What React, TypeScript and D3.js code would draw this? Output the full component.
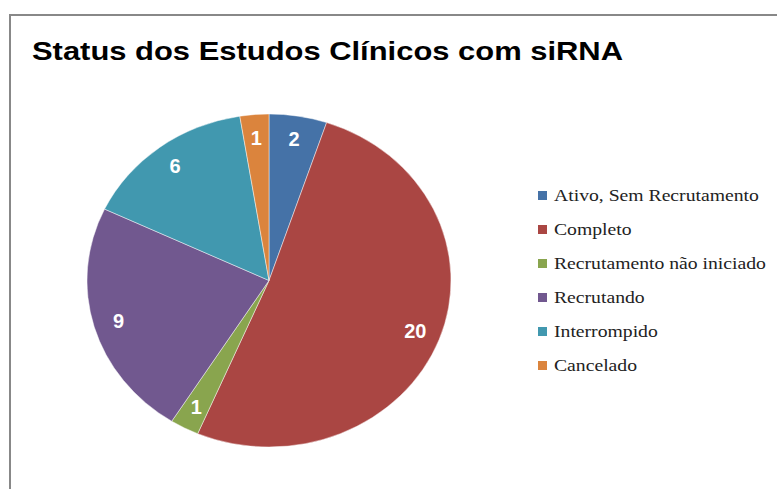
import React from "react";
import * as d3 from "d3";

const categories = [
  "Ativo, Sem Recrutamento",
  "Completo",
  "Recrutamento não iniciado",
  "Recrutando",
  "Interrompido",
  "Cancelado",
];
const values = [2, 20, 1, 9, 6, 1];
const colors = ["#4572A7", "#AA4643", "#89A54E", "#71588F", "#4198AF", "#DB843D"];
const title = "Status dos Estudos Clínicos com siRNA";

export default function App() {
  const W = 777;
  const H = 489;
  const cx = 269;
  const cy = 280.5;
  const rx = 182;
  const ry = 166.5;
  const sy = ry / rx;

  const pie = d3.pie<number>().sort(null).value((d) => d)(values);
  const arc = d3.arc<d3.PieArcDatum<number>>().innerRadius(0).outerRadius(rx);
  const labelArc = d3
    .arc<d3.PieArcDatum<number>>()
    .innerRadius(rx * 0.86)
    .outerRadius(rx * 0.86);

  const legendY = d3.scalePoint<number>().domain(d3.range(categories.length)).range([195, 365]);

  return (
    <svg
      width={W}
      height={H}
      style={{ position: "absolute", left: 0, top: 0, display: "block" }}
    >
      <rect x={0} y={0} width={W} height={H} fill="#fff" />
      <path d={`M10,${H + 5} L10,15 L${W + 5},15`} fill="none" stroke="#888" strokeWidth={2} />
      <text
        x={32}
        y={60}
        fontFamily="Liberation Sans, Arial, sans-serif"
        fontWeight="bold"
        fontSize={26}
        fill="#000"
        textLength={591}
        lengthAdjust="spacingAndGlyphs"
      >
        {title}
      </text>
      <g transform={`translate(${cx},${cy}) scale(1,${sy})`}>
        {pie.map((d, i) => (
          <path key={i} d={arc(d) || ""} fill={colors[i]} stroke="#ffffff" strokeOpacity={0.6} strokeWidth={0.8} />
        ))}
      </g>
      {pie.map((d, i) => {
        const [lx, ly] = labelArc.centroid(d);
        return (
          <text
            key={i}
            x={cx + lx}
            y={cy + ly * sy}
            dy="0.36em"
            textAnchor="middle"
            fontFamily="Liberation Sans, Arial, sans-serif"
            fontWeight="bold"
            fontSize={20}
            fill="#fff"
          >
            {values[i]}
          </text>
        );
      })}
      {categories.map((c, i) => (
        <g key={c} transform={`translate(538,${legendY(i)})`}>
          <rect x={0} y={-4} width={9} height={9} fill={colors[i]} />
          <text
            transform="translate(16,0) scale(1.23,1)"
            x={0}
            y={0}
            dy="0.35em"
            fontFamily="Liberation Serif, Times New Roman, serif"
            fontSize={16}
            fill="#222"
          >
            {c}
          </text>
        </g>
      ))}
    </svg>
  );
}
